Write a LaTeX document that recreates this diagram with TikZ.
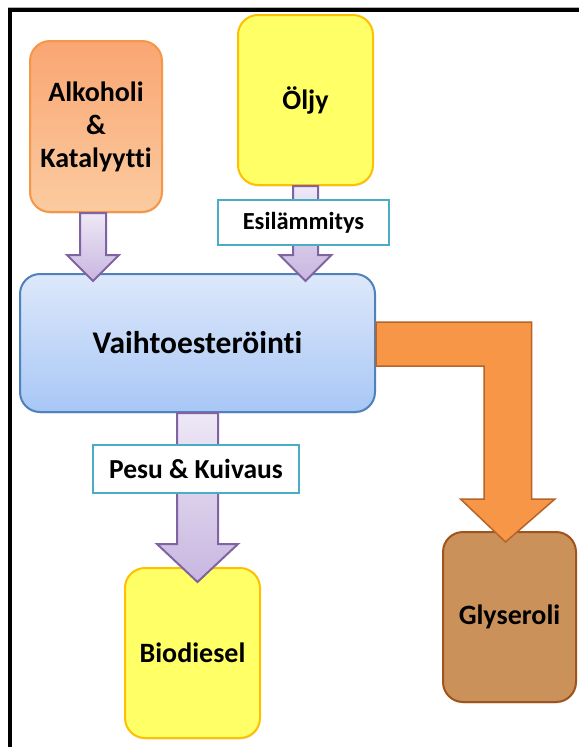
\documentclass[tikz,border=0pt]{standalone}
\usepackage{fontspec}
\setmainfont[Ligatures=NoCommon]{Carlito}
\usetikzlibrary{calc,shadows}
\definecolor{orbord}{HTML}{F79646}
\definecolor{ortop}{HTML}{F9A672}
\definecolor{orbot}{HTML}{FBCBA0}
\definecolor{yelfill}{HTML}{FFFF66}
\definecolor{yelbord}{HTML}{FFC000}
\definecolor{bluetop}{HTML}{DDE8FA}
\definecolor{bluebot}{HTML}{A8C7F6}
\definecolor{bluebord}{HTML}{4F81BD}
\definecolor{purtop}{HTML}{EEE8F6}
\definecolor{purbot}{HTML}{C8B6E0}
\definecolor{purbord}{HTML}{8064A2}
\definecolor{tealbord}{HTML}{4BACC6}
\definecolor{glyfill}{HTML}{CB915A}
\definecolor{glybord}{HTML}{A0541C}
\definecolor{larrfill}{HTML}{F79646}
\definecolor{larrbord}{HTML}{B5652A}
\begin{document}
\begin{tikzpicture}[x=1pt,y=-1pt,
  box/.style={draw,line width=2pt,rounded corners=20pt,align=center,
    font=\bfseries\fontsize{28}{33}\selectfont,inner sep=0pt,
    drop shadow={shadow xshift=0.5pt,shadow yshift=-1.5pt,opacity=0.15,fill=black!60}},
  labelbox/.style={draw=tealbord,line width=2pt,fill=white,inner sep=0pt,
    font=\bfseries\fontsize{24.5}{28}\selectfont},
  purarrow/.style={draw=purbord,line width=2pt,top color=purtop,bottom color=purbot,line join=miter},
  orarrow/.style={draw=larrbord,line width=1.5pt,fill=larrfill,line join=miter}]
\useasboundingbox (0,0) rectangle (579,747);
\fill[white] (0,0) rectangle (579,747);
% frame
\draw[black!30,line width=1pt] (8,7) -- (579,7);
\draw[line width=4pt] (10,747) -- (10,10) -- (579,10);
% boxes
\node[box,draw=orbord,top color=ortop,bottom color=orbot,minimum width=132pt,minimum height=171pt] (alk) at (96,126.5) {Alkoholi\\\&\\Katalyytti};
\node[box,draw=yelbord,fill=yelfill,minimum width=135pt,minimum height=170pt] (olj) at (305.5,100) {Öljy};
\node[box,draw=bluebord,top color=bluetop,bottom color=bluebot,minimum width=355pt,minimum height=138pt,font=\bfseries\fontsize{31.5}{36}\selectfont] (vai) at (197.5,343) {Vaihtoesteröinti};
\node[box,draw=glybord,fill=glyfill,minimum width=133pt,minimum height=170pt] (gly) at (509.5,617) {Glyseroli};
\node[box,draw=yelbord,fill=yelfill,minimum width=135pt,minimum height=170pt] (bio) at (192.5,653) {Biodiesel};
% block arrows
\path[purarrow] let \p1=(alk.south), \p2=(vai.north) in
  (\x1-16pt,\y1) -- (\x1-16pt,\y2+18pt) -- (\x1-29pt,\y2+18pt) -- (\x1-3pt,\y2-8pt)
  -- (\x1+23pt,\y2+18pt) -- (\x1+10pt,\y2+18pt) -- (\x1+10pt,\y1) -- cycle;
\path[purarrow] let \p1=(olj.south), \p2=(vai.north) in
  (\x1-12.5pt,\y1) -- (\x1-12.5pt,\y2+18pt) -- (\x1-26pt,\y2+18pt) -- (\x1,\y2-8pt)
  -- (\x1+26pt,\y2+18pt) -- (\x1+12.5pt,\y2+18pt) -- (\x1+12.5pt,\y1) -- cycle;
\path[purarrow] let \p1=(vai.south), \p2=(bio.north) in
  (\x1-20.5pt,\y1) -- (\x1-20.5pt,\y2+23pt) -- (\x1-40.5pt,\y2+23pt) -- (\x1,\y2-15pt)
  -- (\x1+40.5pt,\y2+23pt) -- (\x1+20.5pt,\y2+23pt) -- (\x1+20.5pt,\y1) -- cycle;
\path[orarrow] let \p1=(vai.east), \p2=(gly.north) in
  (\x1,\y1+21pt) -- (\x2+22pt,\y1+21pt) -- (\x2+22pt,\y2+32pt) -- (\x2+45.5pt,\y2+32pt)
  -- (\x2-4pt,\y2-11pt) -- (\x2-49pt,\y2+32pt) -- (\x2-25.5pt,\y2+32pt)
  -- (\x2-25.5pt,\y1-23pt) -- (\x1,\y1-23pt) -- cycle;
% labels on arrows
\node[labelbox,minimum width=171pt,minimum height=45pt] (esi) at (303.5,222.5) {Esilämmitys};
\node[labelbox,minimum width=206pt,minimum height=48pt,font=\bfseries\fontsize{27.5}{30}\selectfont] (pes) at (196,469) {Pesu \& Kuivaus};
\end{tikzpicture}
\end{document}
